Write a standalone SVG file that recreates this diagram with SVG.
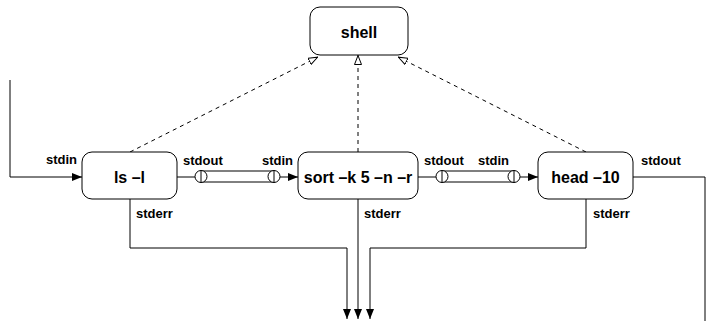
<svg xmlns="http://www.w3.org/2000/svg" width="706" height="321" viewBox="0 0 706 321">
<style>
.box{fill:#fff;stroke:#000;stroke-width:1}
.ln{fill:none;stroke:#000;stroke-width:1}
.dash{fill:none;stroke:#000;stroke-width:1;stroke-dasharray:4,4}
.big{font-family:"Liberation Sans",Arial,sans-serif;font-weight:bold;font-size:16px;text-anchor:middle;fill:#000}
.lbl{font-family:"Liberation Sans",Arial,sans-serif;font-weight:bold;font-size:13px;fill:#000}
</style>
<defs>
<marker id="fa" markerWidth="10" markerHeight="8" refX="10" refY="4" orient="auto" markerUnits="userSpaceOnUse">
<path d="M0,0 L10,4 L0,8 Z" fill="#000"/>
</marker>
<marker id="oa" markerWidth="10" markerHeight="8" refX="10" refY="4" orient="auto" markerUnits="userSpaceOnUse">
<path d="M0.5,0.5 L9.5,4 L0.5,7.5 Z" fill="#fff" stroke="#000" stroke-width="1"/>
</marker>
</defs>
<g id="connectors">
<polyline class="ln" points="10,80 10,177 82,177" marker-end="url(#fa)"/>
<line class="ln" x1="177" y1="177" x2="195" y2="177"/>
<line class="ln" x1="280" y1="177" x2="298" y2="177" marker-end="url(#fa)"/>
<line class="ln" x1="418" y1="177" x2="436" y2="177"/>
<line class="ln" x1="520" y1="177" x2="538" y2="177" marker-end="url(#fa)"/>
<polyline class="ln" points="633,177 705,177 705,322"/>
<polyline class="ln" points="130,199 130,248 347,248 347,319" marker-end="url(#fa)"/>
<line class="ln" x1="358" y1="199" x2="358" y2="319" marker-end="url(#fa)"/>
<polyline class="ln" points="586,199 586,248 370,248 370,319" marker-end="url(#fa)"/>
<line class="dash" x1="130" y1="152" x2="318" y2="57" marker-end="url(#oa)"/>
<line class="dash" x1="358" y1="152" x2="358" y2="55" marker-end="url(#oa)"/>
<line class="dash" x1="586" y1="152" x2="398" y2="57" marker-end="url(#oa)"/>
</g>
<g id="pipe1">
<rect class="ln" x="201" y="171" width="73" height="11"/>
<circle class="box" cx="201" cy="176.5" r="6"/>
<line class="ln" x1="201" y1="170.5" x2="201" y2="182.5"/>
<circle class="box" cx="274" cy="176.5" r="6"/>
<line class="ln" x1="274" y1="170.5" x2="274" y2="182.5"/>
</g>
<g id="pipe2">
<rect class="ln" x="442" y="171" width="72" height="11"/>
<circle class="box" cx="442" cy="176.5" r="6"/>
<line class="ln" x1="442" y1="170.5" x2="442" y2="182.5"/>
<circle class="box" cx="514" cy="176.5" r="6"/>
<line class="ln" x1="514" y1="170.5" x2="514" y2="182.5"/>
</g>
<g id="shell">
<rect class="box" x="310" y="7" width="98" height="48" rx="10"/>
<text class="big" x="359" y="38">shell</text>
</g>
<g id="ls">
<rect class="box" x="82" y="152" width="95" height="47" rx="10"/>
<text class="big" x="129.5" y="183">ls –l</text>
</g>
<g id="sort">
<rect class="box" x="298" y="152" width="120" height="47" rx="10"/>
<text class="big" x="358" y="183">sort –k 5 –n –r</text>
</g>
<g id="head">
<rect class="box" x="538" y="152" width="95" height="47" rx="10"/>
<text class="big" x="585.5" y="183">head –10</text>
</g>
<g id="labels">
<text class="lbl" x="46" y="164">stdin</text>
<text class="lbl" x="183" y="165">stdout</text>
<text class="lbl" x="262" y="165">stdin</text>
<text class="lbl" x="424" y="165">stdout</text>
<text class="lbl" x="478" y="165">stdin</text>
<text class="lbl" x="641" y="165">stdout</text>
<text class="lbl" x="136" y="218">stderr</text>
<text class="lbl" x="364" y="218">stderr</text>
<text class="lbl" x="593" y="218">stderr</text>
</g>
</svg>
